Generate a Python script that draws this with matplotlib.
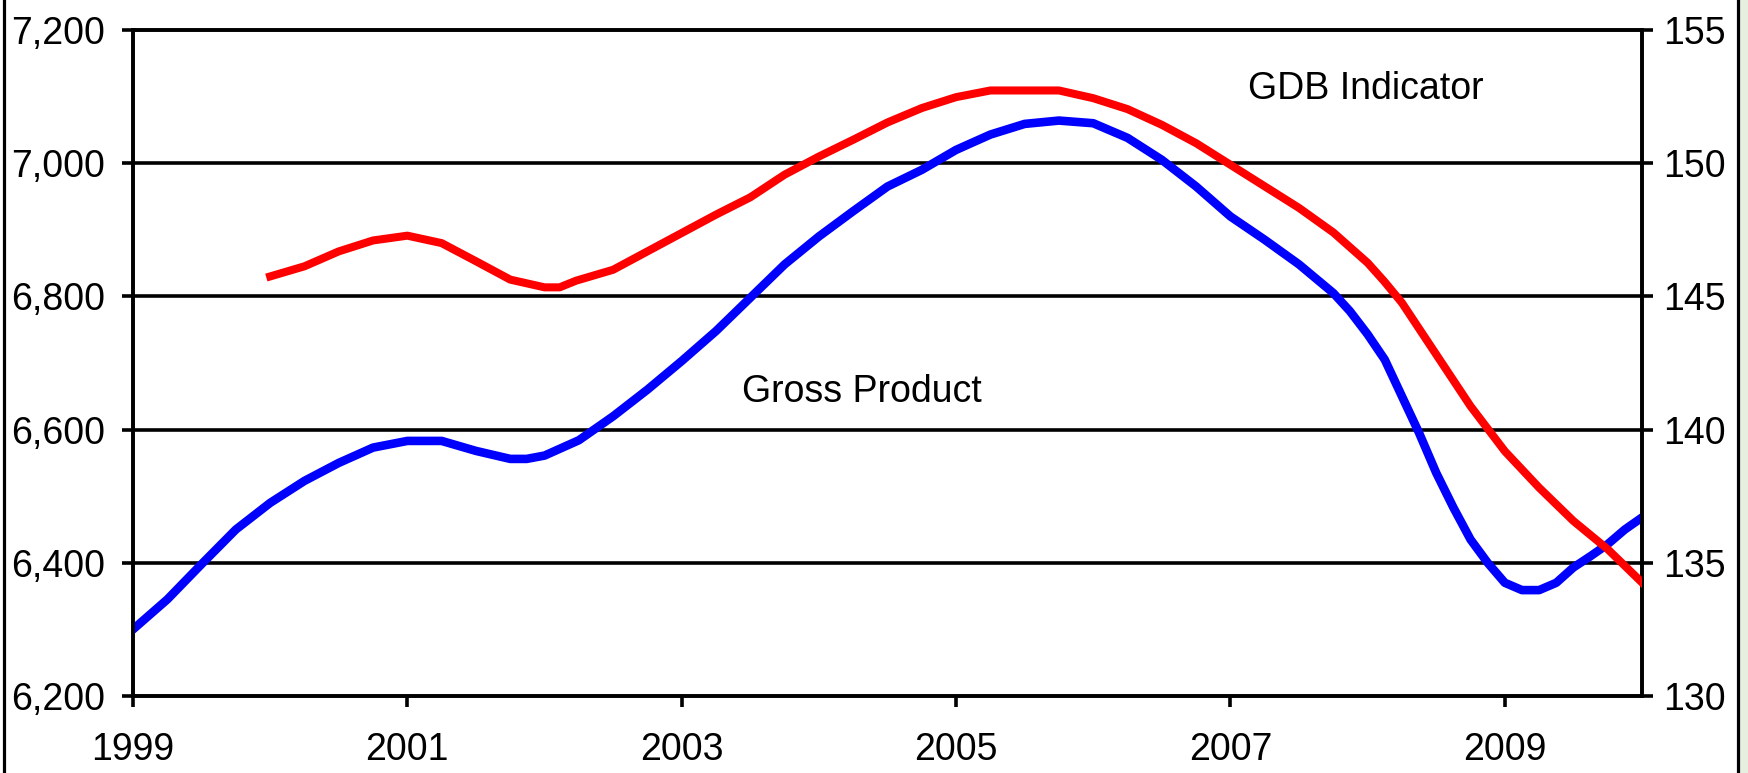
# -*- coding: utf-8 -*-
"""
Gross Product vs GDB Indicator - dual axis line chart
"""
import matplotlib
matplotlib.use('Agg')
import matplotlib.pyplot as plt
from matplotlib.lines import Line2D
from matplotlib.patches import Rectangle
from matplotlib.ticker import StrMethodFormatter

# ============================================================
# Data
# ============================================================

# Gross Product (left axis)
gross_x = [1999.0, 1999.25, 1999.5, 1999.75, 2000.0, 2000.25, 2000.5, 2000.75,
           2001.0, 2001.25, 2001.5, 2001.75, 2001.87,
           2002.0, 2002.25, 2002.5, 2002.75, 2003.0, 2003.25, 2003.5, 2003.75,
           2004.0, 2004.25, 2004.5, 2004.75, 2005.0, 2005.25, 2005.5, 2005.75,
           2006.0, 2006.25, 2006.5, 2006.75, 2007.0, 2007.25, 2007.5, 2007.75,
           2007.87,
           2008.0, 2008.125, 2008.25, 2008.375, 2008.5, 2008.625, 2008.75, 2008.875,
           2009.0, 2009.125, 2009.25, 2009.375, 2009.5, 2009.625, 2009.75, 2009.875,
           2010.0]
gross_y = [6300, 6345, 6398, 6450, 6490, 6523, 6550, 6573,
           6583, 6583, 6568, 6556, 6556,
           6561, 6584, 6620, 6660, 6703, 6748, 6798, 6848,
           6890, 6928, 6965, 6990, 7020, 7043, 7059, 7064,
           7060, 7038, 7005, 6965, 6920, 6885, 6848, 6805,
           6778,
           6743, 6705, 6650, 6595, 6535, 6483, 6435, 6400,
           6370, 6359, 6359, 6370, 6393, 6410, 6428, 6450,
           6468]

# GDB Indicator (right axis)
gdb_x = [2000.0, 2000.25, 2000.5, 2000.75, 2001.0, 2001.25, 2001.5, 2001.75,
         2002.0, 2002.11, 2002.23, 2002.5, 2002.75, 2003.0, 2003.25, 2003.5,
         2003.75, 2004.0, 2004.25, 2004.5, 2004.75, 2005.0, 2005.25, 2005.5,
         2005.75, 2006.0, 2006.25, 2006.5, 2006.75, 2007.0, 2007.25, 2007.5,
         2007.75, 2008.0, 2008.12, 2008.25, 2008.5, 2008.75, 2009.0, 2009.25,
         2009.5, 2009.75, 2010.0]
gdb_y = [145.75, 146.13, 146.69, 147.10, 147.28, 147.0, 146.32, 145.63,
         145.34, 145.34, 145.59, 146.0, 146.69, 147.38, 148.07, 148.72,
         149.57, 150.25, 150.88, 151.53, 152.07, 152.48, 152.73, 152.73,
         152.73, 152.44, 152.03, 151.44, 150.75, 149.94, 149.13, 148.32,
         147.4, 146.26, 145.57, 144.76, 142.82, 140.88, 139.19, 137.82,
         136.57, 135.51, 134.26]

x_ticks = [1999, 2001, 2003, 2005, 2007, 2009]
left_ticks = [6200, 6400, 6600, 6800, 7000, 7200]
right_ticks = [130, 135, 140, 145, 150, 155]

# ============================================================
# Plot
# ============================================================

plt.rcParams['font.family'] = ['Liberation Sans', 'DejaVu Sans']
FS = 27
W, H = 1749, 773
LW = 2.6

fig = plt.figure(figsize=(W / 100, H / 100), dpi=100)
fig.patch.set_facecolor('white')

ax = fig.add_axes([133 / W, 1 - 696 / H, (1642 - 133) / W, (696 - 30) / H])
ax2 = ax.twinx()

ax.plot(gross_x, gross_y, color='#0000ff', linewidth=6.2, zorder=3)
ax2.plot(gdb_x, gdb_y, color='#ff0000', linewidth=5.8, zorder=3)

ax.set_xlim(1999, 2010)
ax.set_ylim(6200, 7200)
ax2.set_ylim(130, 155)

ax.set_xticks(x_ticks)
ax.set_yticks(left_ticks)
ax2.set_yticks(right_ticks)
ax.yaxis.set_major_formatter(StrMethodFormatter('{x:,.0f}'))

# horizontal grid lines
for v in left_ticks[1:-1]:
    ax.axhline(v, color='black', linewidth=LW, zorder=1)

for a in (ax, ax2):
    for sp in a.spines.values():
        sp.set_linewidth(LW)
        sp.set_color('black')

ax.tick_params(axis='x', direction='out', length=8, width=LW, pad=18, labelsize=FS)
ax.tick_params(axis='y', direction='out', length=8, width=LW, pad=12, labelsize=FS)
ax2.tick_params(axis='y', direction='out', length=8, width=LW, pad=7, labelsize=FS)

# series labels (pixel positions, measured from the top)
ax.text(1248, H - 89, 'GDB Indicator', transform=None, fontsize=FS, va='center', ha='left')
ax.text(742, H - 392, 'Gross Product', transform=None, fontsize=FS, va='center', ha='left')

# outer frame: left/right borders and green strip on the right
fig.add_artist(Line2D([3.5 / W, 3.5 / W], [0, 1], color='black', linewidth=2.3))
fig.add_artist(Line2D([1738 / W, 1738 / W], [0, 1], color='black', linewidth=2.3))
fig.add_artist(Rectangle((1740 / W, 0), 9 / W, 1, color='#e6efe0', linewidth=0))

fig.savefig('out.png', dpi=100)
plt.close(fig)
